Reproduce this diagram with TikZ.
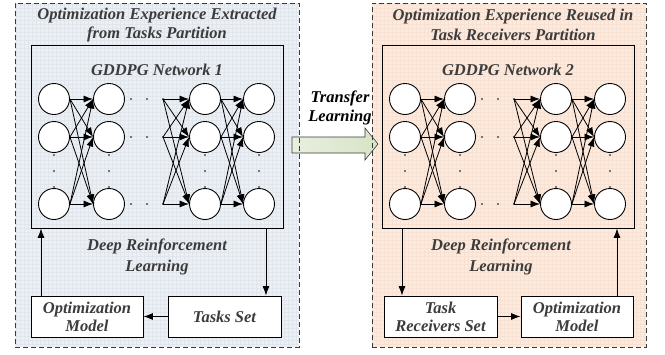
\documentclass[tikz,border=0pt]{standalone}
\usepackage{fontspec}
\setmainfont{Liberation Serif}
\usetikzlibrary{arrows.meta,calc}

\definecolor{labelgray}{HTML}{3C3C3C}
\definecolor{edgegray}{HTML}{3A3A3A}
\definecolor{bluefill}{HTML}{ECF0F5}
\definecolor{bluegrid}{HTML}{E1E6ED}
\definecolor{peachfill}{HTML}{FCEADE}
\definecolor{peachgrid}{HTML}{F6E1D3}
\definecolor{arrowleft}{HTML}{E8EFDF}
\definecolor{arrowright}{HTML}{D7E4C6}

\tikzset{
  lbl/.style={font=\fontsize{16.5}{19.5}\selectfont\bfseries\itshape, text=labelgray, align=center, inner sep=0pt},
  outerbox/.style={draw=edgegray, line width=0.9pt, dash pattern=on 5pt off 3pt, inner sep=0pt},
  netbox/.style={draw=black, line width=0.9pt, inner sep=0pt},
  setbox/.style={draw=black, line width=0.9pt, fill=white, inner sep=0pt,
                 font=\fontsize{16.5}{18}\selectfont\bfseries\itshape, text=labelgray, align=center},
  neuron/.style={circle, draw=black, line width=0.9pt, fill=white, minimum size=31pt, inner sep=0pt},
  arr/.style={-{Latex[length=9.5pt,width=7pt]}, line width=0.8pt, draw=black},
  flow/.style={-{Latex[length=9.5pt,width=7pt]}, line width=0.8pt, draw=black},
  dotmark/.style={circle, fill=black, inner sep=0pt, minimum size=1.8pt},
}

\begin{document}
\begin{tikzpicture}[x=1pt, y=-1pt]
\useasboundingbox (0,0) rectangle (665,354);

% ---------- panel backgrounds ----------
\begin{scope}
  \clip (15,3) rectangle (299,347);
  \fill[bluefill] (15,3) rectangle (299,347);
  \draw[bluegrid, line width=0.3pt, step=4pt] (15,3) grid (299,347);
\end{scope}
\begin{scope}
  \clip (372,3) rectangle (646,347);
  \fill[peachfill] (372,3) rectangle (646,347);
  \draw[peachgrid, line width=0.3pt, step=4pt] (372,3) grid (646,347);
\end{scope}

% ---------- transfer arrow ----------
\path[left color=arrowleft, right color=arrowright, draw=edgegray, line width=0.6pt]
  (292,137) -- (365,137) -- (365,128) -- (378,144) -- (365,160) -- (365,153) -- (292,153) -- cycle;
\node[lbl, text=black] (transfer) at (340,108) {Transfer\\Learning};

% ---------- outer dashed panels ----------
\node[outerbox, minimum width=284pt, minimum height=344pt] (outL) at (157,175) {};
\node[outerbox, minimum width=274pt, minimum height=344pt] (outR) at (509,175) {};

\node[lbl] (titleL) at (157,25) {Optimization Experience Extracted\\from Tasks Partition};
\node[lbl] (titleR) at (513,25) {Optimization Experience Reused in\\Task Receivers Partition};

% ---------- network frames ----------
\node[netbox, minimum width=252pt, minimum height=183pt] (netL) at (157,136.5) {};
\node[netbox, minimum width=252pt, minimum height=183pt] (netR) at (508,136.5) {};

\node[lbl] (gdL) at (157,70) {GDDPG Network 1};
\node[lbl] (gdR) at (508,70) {GDDPG Network 2};

% ---------- two neural networks ----------
\foreach \side/\dx in {L/0, R/351} {
  % neurons
  \foreach \c/\x in {1/54, 2/109, 3/205, 4/259}
    \foreach \r/\y in {1/99, 2/137, 3/204}
      \node[neuron] (\side-\c-\r) at (\x+\dx,\y) {};
  % source points feeding the third layer, with the ellipsis
  \foreach \r/\y in {1/99, 2/137, 3/204} {
    \coordinate (\side-s-\r) at (163+\dx,\y);
    \node[dotmark] at (131+\dx,\y) {};
    \node[dotmark] at (147+\dx,\y) {};
    \node[dotmark] at (163+\dx,\y) {};
  }
  % vertical ellipsis in every layer
  \foreach \x in {54, 109, 205, 259}
    \foreach \y in {155, 171, 187}
      \node[dotmark] at (\x+\dx,\y) {};
  % full connections
  \foreach \i in {1,2,3}
    \foreach \j in {1,2,3} {
      \draw[arr] (\side-1-\i.east) -- (\side-2-\j.west);
      \draw[arr] (\side-s-\i) -- (\side-3-\j.west);
      \draw[arr] (\side-3-\i.east) -- (\side-4-\j.west);
    }
}

% ---------- DRL captions ----------
\node[lbl, font=\fontsize{16.5}{21}\selectfont\bfseries\itshape] (drlL) at (157,257) {Deep Reinforcement\\Learning};
\node[lbl, font=\fontsize{16.5}{21}\selectfont\bfseries\itshape] (drlR) at (501,257) {Deep Reinforcement\\Learning};

% ---------- loop boxes ----------
\node[setbox, minimum width=112pt, minimum height=41pt] (optL) at (87,316.5) {Optimization\\Model};
\node[setbox, minimum width=113pt, minimum height=41pt] (tasksL) at (224.5,316.5) {Tasks Set};
\node[setbox, minimum width=113pt, minimum height=41pt] (recvR) at (440.5,316.5) {Task\\Receivers Set};
\node[setbox, minimum width=112pt, minimum height=41pt] (optR) at (577,316.5) {Optimization\\Model};

% ---------- loop connectors ----------
\coordinate (xL1) at (266,0);
\coordinate (xL2) at (41,0);
\coordinate (xR1) at (402,0);
\coordinate (xR2) at (617,0);

\draw[flow] (netL.south -| xL1) -- (tasksL.north -| xL1);
\draw[flow] (tasksL.west) -- (optL.east);
\draw[flow] (optL.north -| xL2) -- (netL.south -| xL2);

\draw[flow] (netR.south -| xR1) -- (recvR.north -| xR1);
\draw[flow] (recvR.east) -- (optR.west);
\draw[flow] (optR.north -| xR2) -- (netR.south -| xR2);

\end{tikzpicture}
\end{document}
